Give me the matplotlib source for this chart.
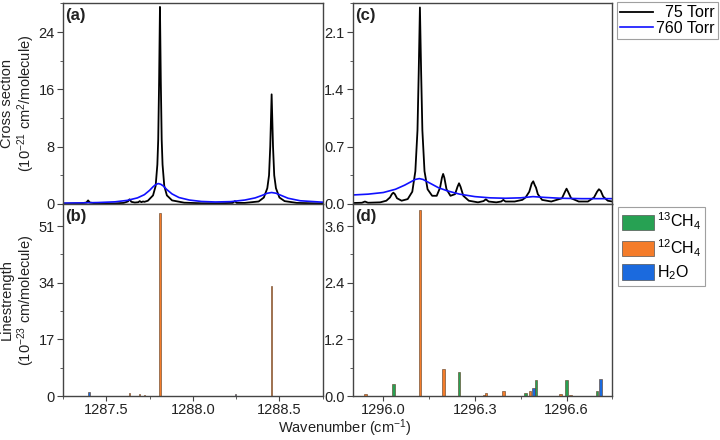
import matplotlib.pyplot as plt
from matplotlib.ticker import MultipleLocator
from matplotlib.patches import Patch

plt.rcParams['font.family'] = ['Liberation Sans', 'DejaVu Sans']
plt.rcParams['mathtext.default'] = 'regular'

# ---- cross section, 1287-1289 cm-1 window (10^-21 cm2/molecule) ----
wn_a75 = [1287.25, 1287.35, 1287.385, 1287.395, 1287.405, 1287.44, 1287.55, 1287.60,
          1287.625, 1287.634, 1287.645, 1287.665, 1287.685, 1287.693, 1287.703, 1287.712,
          1287.72, 1287.74, 1287.77, 1287.785, 1287.795, 1287.80, 1287.805, 1287.81,
          1287.815, 1287.82, 1287.825, 1287.835, 1287.85, 1287.88, 1287.95, 1288.05,
          1288.15, 1288.23, 1288.243, 1288.253, 1288.30, 1288.38, 1288.41, 1288.43,
          1288.44, 1288.447, 1288.455, 1288.463, 1288.47, 1288.48, 1288.50, 1288.53,
          1288.60, 1288.75]
xs_a75 = [0.05, 0.08, 0.2, 0.5, 0.2, 0.08, 0.08, 0.15,
          0.35, 0.65, 0.3, 0.2, 0.25, 0.4, 0.25, 0.35,
          0.3, 0.45, 1.2, 2.5, 5.5, 9.0, 17.0, 27.5,
          17.0, 9.0, 5.5, 2.5, 1.2, 0.5, 0.18, 0.1,
          0.1, 0.15, 0.4, 0.15, 0.15, 0.35, 0.9, 2.2,
          4.0, 8.0, 15.3, 8.0, 4.0, 2.2, 0.9, 0.4,
          0.15, 0.07]

wn_a760 = [1287.25, 1287.35, 1287.45, 1287.55, 1287.62, 1287.68, 1287.72, 1287.75,
           1287.77, 1287.785, 1287.80, 1287.815, 1287.83, 1287.85, 1287.88, 1287.92,
           1287.98, 1288.05, 1288.13, 1288.22, 1288.30, 1288.36, 1288.40, 1288.43,
           1288.455, 1288.48, 1288.51, 1288.55, 1288.62, 1288.75]
xs_a760 = [0.12, 0.15, 0.2, 0.3, 0.5, 0.85, 1.3, 1.9,
           2.4, 2.7, 2.85, 2.75, 2.5, 2.0, 1.4, 0.9,
           0.55, 0.35, 0.28, 0.33, 0.55, 0.85, 1.2, 1.5,
           1.6, 1.5, 1.2, 0.8, 0.45, 0.25]

# ---- cross section, 1296 cm-1 window ----
wn_c75 = [1295.90, 1295.93, 1295.94, 1295.95, 1295.99, 1296.01, 1296.022, 1296.028,
          1296.033, 1296.038, 1296.045, 1296.06, 1296.08, 1296.095, 1296.105, 1296.112,
          1296.116, 1296.12, 1296.124, 1296.128, 1296.135, 1296.145, 1296.16, 1296.175,
          1296.186, 1296.192, 1296.196, 1296.200, 1296.207, 1296.22, 1296.235, 1296.243,
          1296.248, 1296.253, 1296.262, 1296.28, 1296.31, 1296.328, 1296.336, 1296.345,
          1296.37, 1296.386, 1296.393, 1296.40, 1296.43, 1296.455, 1296.466, 1296.478,
          1296.486, 1296.491, 1296.496, 1296.500, 1296.506, 1296.52, 1296.55, 1296.585,
          1296.595, 1296.600, 1296.605, 1296.615, 1296.64, 1296.67, 1296.69, 1296.70,
          1296.706, 1296.712, 1296.72, 1296.735, 1296.75]
xs_c75 = [0.012, 0.015, 0.03, 0.015, 0.02, 0.04, 0.08, 0.12,
          0.138, 0.12, 0.07, 0.04, 0.06, 0.15, 0.4, 0.9,
          1.6, 2.40, 1.6, 0.9, 0.4, 0.18, 0.1, 0.1,
          0.2, 0.32, 0.367, 0.32, 0.18, 0.1, 0.12, 0.21,
          0.253, 0.21, 0.1, 0.04, 0.02, 0.035, 0.057, 0.03,
          0.02, 0.03, 0.05, 0.03, 0.03, 0.05, 0.08, 0.15,
          0.25, 0.277, 0.23, 0.2, 0.12, 0.05, 0.03, 0.07,
          0.15, 0.187, 0.15, 0.07, 0.03, 0.03, 0.08, 0.15,
          0.18, 0.16, 0.09, 0.04, 0.03]

wn_c760 = [1295.90, 1295.95, 1296.00, 1296.04, 1296.07, 1296.09, 1296.105, 1296.118,
           1296.13, 1296.15, 1296.18, 1296.21, 1296.25, 1296.30, 1296.35, 1296.40,
           1296.45, 1296.49, 1296.53, 1296.58, 1296.65, 1296.75]
xs_c760 = [0.11, 0.12, 0.14, 0.18, 0.23, 0.27, 0.30, 0.31,
           0.30, 0.26, 0.20, 0.16, 0.12, 0.09, 0.075, 0.07,
           0.075, 0.09, 0.08, 0.07, 0.065, 0.065]

# ---- line strengths (10^-23 cm/molecule) ----
b_13ch4_x = [1288.03]
b_13ch4_s = [0.05]
b_12ch4_x = [1287.634, 1287.694, 1287.72, 1287.81, 1288.455]
b_12ch4_s = [0.9, 0.6, 0.4, 54.9, 33.0]
b_h2o_x = [1287.40, 1288.248]
b_h2o_s = [1.1, 0.7]

d_13ch4_x = [1296.033, 1296.248, 1296.466, 1296.500, 1296.600, 1296.700]
d_13ch4_s = [0.244, 0.50, 0.07, 0.33, 0.33, 0.11]
d_12ch4_x = [1295.941, 1296.087, 1296.120, 1296.127, 1296.196, 1296.213, 1296.331,
             1296.336, 1296.393, 1296.425, 1296.480, 1296.581, 1296.614, 1296.736]
d_12ch4_s = [0.035, 0.01, 3.94, 0.01, 0.57, 0.01, 0.03,
             0.06, 0.10, 0.01, 0.10, 0.035, 0.02, 0.01]
d_h2o_x = [1296.491, 1296.710]
d_h2o_s = [0.16, 0.355]

c13 = '#27a153'
c12 = '#f47c2a'
cw = '#1b6ade'

fig = plt.figure(figsize=(7.2, 4.4), dpi=100)
ax_a = fig.add_axes([0.0875, 0.5364, 0.3607, 0.4568])
ax_b = fig.add_axes([0.0875, 0.1, 0.3607, 0.4364])
ax_c = fig.add_axes([0.4899, 0.5364, 0.3606, 0.4568])
ax_d = fig.add_axes([0.4899, 0.1, 0.3606, 0.4364])

l75, = ax_a.plot(wn_a75, xs_a75, color='black', lw=1.3)
l760, = ax_a.plot(wn_a760, xs_a760, color='#1010ff', lw=1.2)
ax_c.plot(wn_c75, xs_c75, color='black', lw=1.3)
ax_c.plot(wn_c760, xs_c760, color='#1010ff', lw=1.2)

for ax, w, sets in [(ax_b, 0.007, [(b_13ch4_x, b_13ch4_s, c13), (b_12ch4_x, b_12ch4_s, c12),
                                   (b_h2o_x, b_h2o_s, cw)]),
                    (ax_d, 0.009, [(d_13ch4_x, d_13ch4_s, c13), (d_12ch4_x, d_12ch4_s, c12),
                                   (d_h2o_x, d_h2o_s, cw)])]:
    for xx, ss, col in sets:
        ax.bar(xx, ss, width=w, color=col, edgecolor='#5a3a20', linewidth=0.4)

ax_a.set_xlim(1287.25, 1288.75)
ax_b.set_xlim(1287.25, 1288.75)
ax_c.set_xlim(1295.9, 1296.75)
ax_d.set_xlim(1295.9, 1296.75)
ax_a.set_ylim(0, 28.05)
ax_b.set_ylim(0, 57.65)
ax_c.set_ylim(0, 2.455)
ax_d.set_ylim(0, 4.07)

ax_a.yaxis.set_major_locator(MultipleLocator(8))
ax_a.yaxis.set_minor_locator(MultipleLocator(4))
ax_b.yaxis.set_major_locator(MultipleLocator(17))
ax_b.yaxis.set_minor_locator(MultipleLocator(8.5))
ax_c.yaxis.set_major_locator(MultipleLocator(0.7))
ax_c.yaxis.set_minor_locator(MultipleLocator(0.35))
ax_d.yaxis.set_major_locator(MultipleLocator(1.2))
ax_d.yaxis.set_minor_locator(MultipleLocator(0.6))
ax_c.yaxis.set_major_formatter(lambda v, p: f'{v:.1f}')
ax_d.yaxis.set_major_formatter(lambda v, p: f'{v:.1f}')
ax_b.xaxis.set_major_locator(MultipleLocator(0.5))
ax_b.xaxis.set_minor_locator(MultipleLocator(0.25))
ax_b.xaxis.set_major_formatter(lambda v, p: f'{v:.1f}')
ax_d.xaxis.set_major_locator(MultipleLocator(0.3))
ax_d.xaxis.set_minor_locator(MultipleLocator(0.15))
ax_d.xaxis.set_major_formatter(lambda v, p: f'{v:.1f}')

for ax in (ax_a, ax_b, ax_c, ax_d):
    for s in ax.spines.values():
        s.set_color('#444444')
        s.set_linewidth(1.0)
    ax.tick_params(which='major', direction='out', length=4, width=0.8, color='#444444',
                   labelsize=10.5, labelcolor='#222222', pad=2)
    ax.tick_params(which='minor', direction='out', length=2, width=0.6, color='#444444')
    ax.tick_params(axis='x', which='major', length=3.5, pad=1.5)
for ax in (ax_a, ax_c):
    ax.tick_params(axis='x', which='both', bottom=False, labelbottom=False)

for ax, lab in [(ax_a, '(a)'), (ax_b, '(b)'), (ax_c, '(c)'), (ax_d, '(d)')]:
    ax.text(0.01, 0.975, lab, transform=ax.transAxes, ha='left', va='top',
            fontsize=12, fontweight='bold', color='#222222')

ax_a.set_ylabel('Cross section\n(10$^{-21}$ cm$^{2}$/molecule)', fontsize=10.5,
                color='#222222', linespacing=1.1)
ax_b.set_ylabel('Linestrength\n(10$^{-23}$ cm/molecule)', fontsize=10.5,
                color='#222222', linespacing=1.1)
ax_a.yaxis.set_label_coords(-0.1, 0.5)
ax_b.yaxis.set_label_coords(-0.1, 0.5)
fig.text(0.479, 0.003, 'Wavenumber (cm$^{-1}$)', ha='center', va='bottom',
         fontsize=10.5, color='#222222')

leg1 = fig.legend([l75, l760], ['  75 Torr', '760 Torr'], loc='upper left',
                  bbox_to_anchor=(0.8565, 0.9955), fontsize=11.5, frameon=True,
                  fancybox=False, handlelength=2.1, handletextpad=0.15,
                  borderpad=0.2, labelspacing=0.05, borderaxespad=0)
leg1.get_frame().set_edgecolor('#888888')
leg1.get_frame().set_linewidth(0.8)

patches = [Patch(facecolor=c13, edgecolor='#555555', linewidth=0.5),
           Patch(facecolor=c12, edgecolor='#555555', linewidth=0.5),
           Patch(facecolor=cw, edgecolor='#555555', linewidth=0.5)]
leg2 = fig.legend(patches, ['$^{13}$CH$_4$', '$^{12}$CH$_4$', 'H$_2$O'], loc='upper left',
                  bbox_to_anchor=(0.8583, 0.5295), fontsize=11.5, frameon=True,
                  fancybox=False, handlelength=2.0, handleheight=1.1, handletextpad=0.2,
                  borderpad=0.25, labelspacing=0.3, borderaxespad=0)
leg2.get_frame().set_edgecolor('#888888')
leg2.get_frame().set_linewidth(0.8)

fig.savefig('out.png', dpi=100)
